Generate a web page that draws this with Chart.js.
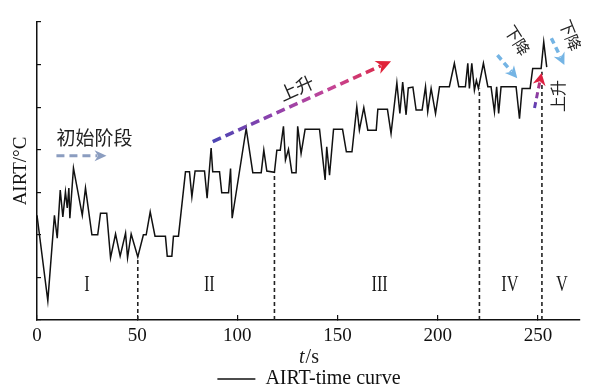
<!DOCTYPE html>
<html><head><meta charset="utf-8">
<script src="https://cdn.jsdelivr.net/npm/chart.js@4.4.0/dist/chart.umd.min.js"></script>
<style>html,body{margin:0;padding:0;background:#fff}canvas{display:block}</style>
</head><body>
<canvas id="c" width="589" height="388"></canvas>
<script>
// ---- data ----
const timeS = [0,5.4,8.7,10.1,11.6,12.9,14.2,15.1,15.9,16.4,
  18.2,22.6,24.2,27.4,30.3,31.7,34.8,36.7,39.2,41.5,
  44.2,45.2,47.0,50.3,53.1,54.5,56.5,58.9,64.1,65.0,
  67.3,68.1,70.6,74.1,76.1,77.3,78.9,83.6,84.9,86.9,
  87.7,91.1,92.2,95.6,96.6,97.4,104.4,107.7,111.9,113.2,
  114.7,118.5,119.7,121.4,123.0,124.0,125.5,127.2,129.3,130.1,
  131.8,133.8,141.0,143.8,144.6,146.0,148.0,152.5,154.4,157.2,
  159.6,160.9,163.1,165.1,169.3,170.1,174.9,176.7,179.6,181.1,
  182.5,184.2,185.3,187.6,189.2,192.2,193.9,195.0,196.7,198.9,
  200.9,205.8,208.3,210.5,213.8,215.0,215.8,217.0,218.3,219.3,
  220.3,222.8,225.0,226.6,228.3,229.4,230.4,231.6,239.1,240.8,
  242.1,246.1,247.4,251.6,252.9,254.4];
const airt = [2.46,0.45,2.46,1.92,3.05,2.42,3.01,2.63,3.10,2.39,
  3.57,2.46,3.10,2.00,2.00,2.51,2.51,1.46,2.02,1.50,
  2.04,1.46,2.02,1.48,2.00,2.00,2.54,1.97,1.97,1.50,
  1.50,1.97,1.97,3.48,3.48,2.89,3.50,3.50,2.86,4.04,
  3.48,3.48,2.99,2.99,3.56,2.39,4.50,3.46,3.46,3.99,
  3.50,3.47,3.99,3.99,4.55,3.76,4.01,3.46,3.46,4.55,
  3.91,4.48,4.48,3.29,4.07,3.40,4.48,4.48,3.95,3.95,
  5.01,4.46,4.99,4.46,4.46,4.95,4.95,4.38,5.57,4.85,
  5.59,4.82,5.45,5.47,4.93,4.93,5.48,4.89,5.44,4.85,
  5.48,5.48,6.03,5.48,5.48,6.03,5.44,6.03,5.40,5.63,
  5.44,6.03,5.48,5.48,4.89,5.48,4.85,5.48,5.48,4.73,
  5.44,5.44,5.91,5.91,6.53,5.94];
const xTicks = [0,50,100,150,200,250];
const yTicks = [0,1,2,3,4,5,6,7];
const xMax = 271;
const yMax = 7;
const stageBounds = [50.3,118.5,220.8,252.0];
const stageBoundTop = [1.49,3.46,5.44,5.83];
const stageLabels = ['I','II','III','IV','V'];
const stageLabelT = [25,86,171,236,262];
const stageLabelV = 0.68;
const seriesName = 'AIRT-time curve';
const xTitleItalic = 't', xTitleRest = '/s';
const yTitle = 'AIRT/\u00B0C';

// annotations (data units)
const notes = [
  {text:'初始阶段', t:9.7, v:4.27, rot:0, size:19, align:'left'},
  {text:'上升', t:129.5, v:5.45, rot:-24, size:18, align:'center'},
  {text:'下降', t:239.8, v:6.57, rot:58, size:16, align:'center'},
  {text:'下降', t:266.2, v:6.69, rot:68, size:16, align:'center'},
  {text:'上升', t:259.9, v:5.26, rot:-90, size:16, align:'center'}
];
const arrows = [
  {t1:9.7, v1:3.86, t2:34.7, v2:3.86, colors:['#8b9dc0'], lw:3, dash:[8,5], head:12, hw:5.5},
  {t1:87.7, v1:4.19, t2:176.7, v2:6.08, colors:['#4b45b3','#8e42ad','#c44596','#e0243a'], lw:3.5, dash:[9,5], head:15, hw:7, headColor:'#e0243a'},
  {t1:229.8, v1:6.22, t2:239.7, v2:5.68, colors:['#74b4e4'], lw:3.5, dash:[6,4], head:12, hw:6},
  {t1:256.7, v1:6.62, t2:263.2, v2:5.99, colors:['#74b4e4'], lw:3.5, dash:[6,4], head:12, hw:6},
  {t1:248.3, v1:4.98, t2:251.8, v2:5.80, colors:['#5a3fb5','#9a3a9a','#dd2545'], lw:3, dash:[6,4], head:12, hw:6.5, headColor:'#dd2040'}
];

const serif = '"Liberation Serif","Times New Roman",serif';
const cjk = '"Noto Sans CJK SC","Noto Sans CJK JP",sans-serif';

const boundData = [];
stageBounds.forEach((t,i)=>{ boundData.push({x:t,y:0},{x:t,y:stageBoundTop[i]},{x:t,y:null}); });

function drawArrow(ctx, x1,y1,x2,y2,o){
  const dx=x2-x1, dy=y2-y1, L=Math.hypot(dx,dy), ux=dx/L, uy=dy/L;
  let stroke;
  if (o.colors.length>1){ const g=ctx.createLinearGradient(x1,y1,x2,y2); o.colors.forEach((c,i)=>g.addColorStop(i/(o.colors.length-1),c)); stroke=g; }
  else stroke=o.colors[0];
  ctx.save();
  ctx.strokeStyle=stroke; ctx.lineWidth=o.lw; ctx.setLineDash(o.dash); ctx.lineCap='butt';
  ctx.beginPath(); ctx.moveTo(x1,y1); ctx.lineTo(x2-ux*o.head*0.75, y2-uy*o.head*0.75); ctx.stroke();
  ctx.setLineDash([]);
  ctx.fillStyle=o.headColor||o.colors[o.colors.length-1];
  const bx=x2-ux*o.head, by=y2-uy*o.head;
  ctx.beginPath(); ctx.moveTo(x2,y2);
  ctx.lineTo(bx-uy*o.hw, by+ux*o.hw);
  ctx.lineTo(x2-ux*o.head*0.7, y2-uy*o.head*0.7);
  ctx.lineTo(bx+uy*o.hw, by-ux*o.hw);
  ctx.closePath(); ctx.fill();
  ctx.restore();
}

const annotPlugin = {
  id:'annot',
  afterLayout(chart){
    const lg = chart.legend;
    if (lg){ lg.left += 19; lg.right += 19; lg.top += 11; lg.bottom += 11; }
  },
  afterDraw(chart){
    const {ctx, scales:{x,y}, chartArea} = chart;
    const P=(t,v)=>[x.getPixelForValue(t), y.getPixelForValue(v)];
    ctx.save();
    // stage numerals
    ctx.fillStyle='#1a1a1a'; ctx.textAlign='center'; ctx.textBaseline='alphabetic';
    ctx.font='24px '+serif;
    stageLabels.forEach((s,i)=>{ const [px,py]=P(stageLabelT[i],stageLabelV);
      ctx.save(); ctx.translate(px,py); ctx.scale(0.68,1); ctx.fillText(s,0,0); ctx.restore(); });
    // x title  t/s
    ctx.font='italic 20px '+serif; const w1=ctx.measureText(xTitleItalic).width;
    ctx.font='20px '+serif; const w2=ctx.measureText(xTitleRest).width;
    const cx=(chartArea.left+chartArea.right)/2, ty=x.top+43;
    ctx.textAlign='left';
    ctx.font='italic 20px '+serif; ctx.fillText(xTitleItalic, cx-(w1+w2)/2, ty);
    ctx.font='20px '+serif; ctx.fillText(xTitleRest, cx-(w1+w2)/2+w1+1, ty);
    // arrows
    arrows.forEach(a=>{ const [x1,y1]=P(a.t1,a.v1), [x2,y2]=P(a.t2,a.v2); drawArrow(ctx,x1,y1,x2,y2,a); });
    // CJK notes
    ctx.fillStyle='#222'; ctx.textBaseline='middle';
    notes.forEach(n=>{ const [px,py]=P(n.t,n.v);
      ctx.save(); ctx.translate(px,py); ctx.rotate(n.rot*Math.PI/180);
      ctx.font=n.size+'px '+cjk; ctx.textAlign=n.align; ctx.fillText(n.text,0,0); ctx.restore(); });
    ctx.restore();
  }
};

new Chart(document.getElementById('c'), {
  type:'line',
  data:{ datasets:[
    {label:seriesName, data:timeS.map((t,i)=>({x:t,y:airt[i]})), borderColor:'#111', borderWidth:1.5,
     pointRadius:0, tension:0, fill:false},
    {label:'bounds', data:boundData, borderColor:'#222', borderWidth:1.6, borderDash:[4,3],
     pointRadius:0, spanGaps:false, fill:false}
  ]},
  options:{
    responsive:false, animation:false, devicePixelRatio:1,
    layout:{padding:{left:0,right:9,top:22,bottom:0}},
    plugins:{
      legend:{display:true, position:'bottom',
        labels:{filter:(it)=>it.datasetIndex===0, usePointStyle:true, pointStyle:'line', pointStyleWidth:38,
          padding:0, color:'#111', font:{family:serif, size:20}}},
      tooltip:{enabled:false}
    },
    scales:{
      x:{type:'linear', min:0, max:xMax,
        afterBuildTicks:(s)=>{ s.ticks=xTicks.map(v=>({value:v})); },
        afterFit:(s)=>{ s.height=38; },
        ticks:{color:'#111', font:{family:serif, size:19}, padding:10, maxRotation:0},
        grid:{drawOnChartArea:false, drawTicks:true, tickLength:-5, color:'#111', lineWidth:1.2},
        border:{display:true, color:'#111', width:1.5},
        title:{display:false}
      },
      y:{type:'linear', min:0, max:yMax,
        afterBuildTicks:(s)=>{ s.ticks=yTicks.map(v=>({value:v})); },
        afterFit:(s)=>{ s.width=37; },
        ticks:{display:false},
        grid:{drawOnChartArea:false, drawTicks:true, tickLength:-4, color:'#111', lineWidth:1.2},
        border:{display:true, color:'#111', width:1.5},
        title:{display:true, text:yTitle, color:'#111', font:{family:serif, size:19}, padding:{top:10,bottom:0}}
      }
    }
  },
  plugins:[annotPlugin]
});
</script>
</body></html>
